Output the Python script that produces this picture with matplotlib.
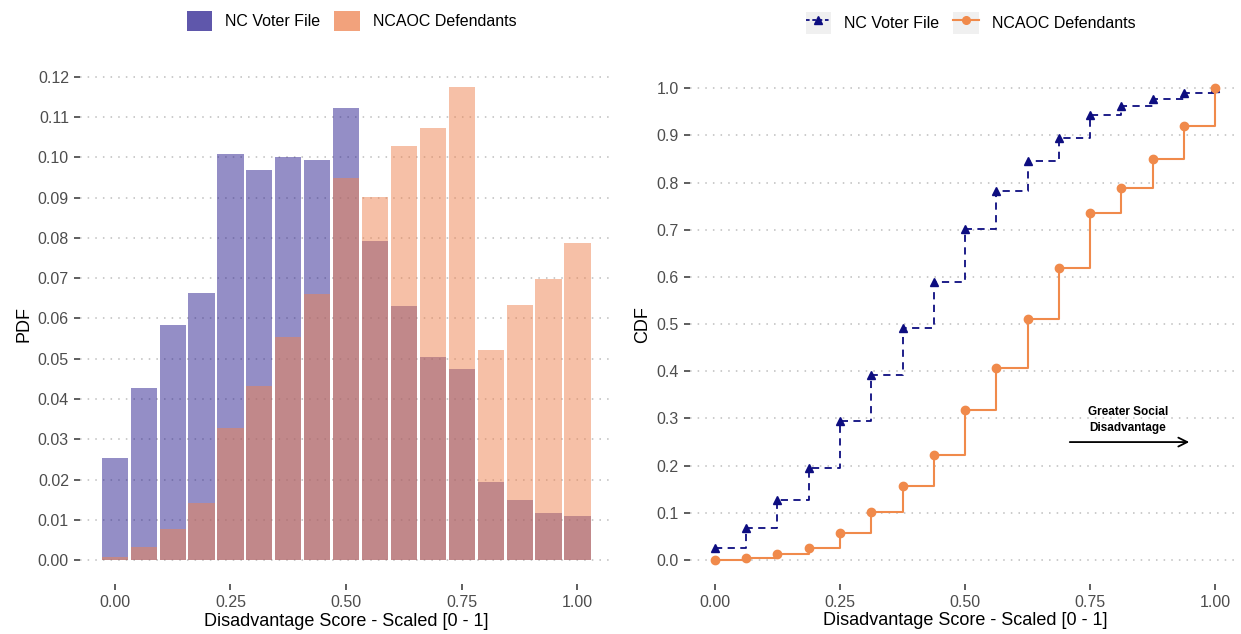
import matplotlib
matplotlib.use("Agg")
import matplotlib.pyplot as plt
from matplotlib.patches import Patch, Rectangle
from matplotlib.lines import Line2D
from matplotlib.legend_handler import HandlerTuple

plt.rcParams['font.family'] = ['Liberation Sans', 'DejaVu Sans']

# bin centres of the scaled disadvantage score
bins = [0.0, 0.0625, 0.125, 0.1875, 0.25, 0.3125, 0.375, 0.4375, 0.5,
        0.5625, 0.625, 0.6875, 0.75, 0.8125, 0.875, 0.9375, 1.0]

voter_pdf = [0.0254, 0.0428, 0.0585, 0.0664, 0.1009, 0.0969, 0.1002, 0.0993, 0.1124,
             0.0792, 0.0630, 0.0505, 0.0475, 0.0193, 0.0150, 0.0117, 0.0109]
aoc_pdf = [0.0008, 0.0032, 0.0077, 0.0141, 0.0327, 0.0432, 0.0553, 0.0660, 0.0950,
           0.0901, 0.1028, 0.1073, 0.1175, 0.0521, 0.0634, 0.0697, 0.0788]

voter_cdf = [0.025, 0.068, 0.127, 0.194, 0.295, 0.392, 0.492, 0.590, 0.702,
             0.782, 0.845, 0.895, 0.943, 0.963, 0.978, 0.990, 1.000]
aoc_cdf = [0.000, 0.004, 0.012, 0.025, 0.058, 0.101, 0.157, 0.222, 0.318,
           0.408, 0.511, 0.618, 0.735, 0.788, 0.851, 0.921, 1.000]

labels = ['NC Voter File', 'NCAOC Defendants']
x_ticks = [0, 0.25, 0.5, 0.75, 1.0]
x_ticklabels = ['0.00', '0.25', '0.50', '0.75', '1.00']

blue = '#2A1F8F'
orange = '#EE8350'
navy = '#0D0D80'
line_orange = '#F08A4B'
tick_col = '#4D4D4D'
grid_col = '#BDBDBD'

fig = plt.figure(figsize=(12.41, 6.34), dpi=100)
ax1 = fig.add_axes([0.0645, 0.0786, 0.4288, 0.8222])
ax2 = fig.add_axes([0.556, 0.0795, 0.4432, 0.8185])


def style(ax):
    for s in ax.spines.values():
        s.set_visible(False)
    ax.yaxis.grid(True, linestyle=(0, (1, 4)), color=grid_col, linewidth=1.1)
    ax.xaxis.grid(False)
    ax.set_axisbelow(True)
    ax.tick_params(axis='both', length=4, width=1.1, color='#333333',
                   labelcolor=tick_col, labelsize=11.5)
    ax.tick_params(axis='x', pad=4)
    ax.tick_params(axis='y', pad=4)
    ax.set_xticks(x_ticks)
    ax.set_xticklabels(x_ticklabels)
    ax.set_xlabel('Disadvantage Score - Scaled [0 - 1]', fontsize=13, labelpad=2)


# ---- left: PDF histogram (bars a bit narrower than the bin so a white gap shows)
bar_w = 0.0565
ax1.bar(bins, voter_pdf, width=bar_w, color=blue, alpha=0.5, linewidth=0)
ax1.bar(bins, aoc_pdf, width=bar_w, color=orange, alpha=0.5, linewidth=0)
style(ax1)
ax1.set_xlim(-0.075, 1.075)
ax1.set_ylim(-0.006, 0.1235)
ax1.set_yticks([i / 100 for i in range(13)])
ax1.set_yticklabels(['%.2f' % (i / 100) for i in range(13)])
ax1.set_ylabel('PDF', fontsize=13, labelpad=4)

h1 = [Patch(facecolor=blue, alpha=0.75), Patch(facecolor=orange, alpha=0.75)]
ax1.legend(h1, labels, loc='center', bbox_to_anchor=(0.51, 1.08), ncol=2, frameon=False,
           fontsize=11.5, handlelength=1.6, handleheight=1.6, handletextpad=0.8,
           columnspacing=0.9)

# ---- right: CDF steps
ax2.step(bins, voter_cdf, where='post', color=navy, linestyle=(0, (4, 3)), linewidth=1.3)
ax2.plot(bins, voter_cdf, linestyle='none', marker='^', markersize=5.5, color=navy)
ax2.step(bins, aoc_cdf, where='post', color=line_orange, linewidth=1.5)
ax2.plot(bins, aoc_cdf, linestyle='none', marker='o', markersize=6, color=line_orange)
style(ax2)
ax2.set_xlim(-0.05, 1.05)
ax2.set_ylim(-0.05, 1.05)
ax2.set_yticks([i / 10 for i in range(11)])
ax2.set_yticklabels(['%.1f' % (i / 10) for i in range(11)])
ax2.set_ylabel('CDF', fontsize=13, labelpad=4)

ax2.annotate('', xy=(0.954, 0.25), xytext=(0.704, 0.25),
             arrowprops=dict(arrowstyle='->', color='black', lw=1.3, mutation_scale=16))
ax2.text(0.826, 0.297, 'Greater Social\nDisadvantage', ha='center', va='center',
         fontsize=8.5, fontweight='bold', linespacing=1.5)

key_bg = '#F0F0F0'
h2 = [(Rectangle((0, 0), 1, 1, facecolor=key_bg, edgecolor='none'),
       Line2D([], [], color=navy, linestyle=(0, (2, 1.5)), marker='^', markersize=5.5, linewidth=1.3)),
      (Rectangle((0, 0), 1, 1, facecolor=key_bg, edgecolor='none'),
       Line2D([], [], color=line_orange, marker='o', markersize=5.5, linewidth=1.5))]
ax2.legend(h2, labels, loc='center', bbox_to_anchor=(0.51, 1.08), ncol=2, frameon=False,
           fontsize=11.5, handlelength=1.6, handleheight=1.8, handletextpad=0.8,
           columnspacing=0.9, handler_map={tuple: HandlerTuple(ndivide=1)})

fig.savefig('out.png', dpi=100)
